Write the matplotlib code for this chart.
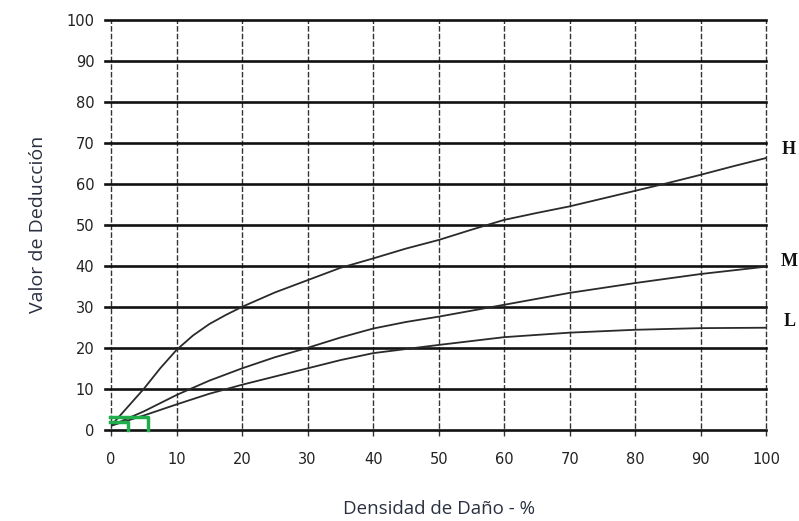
import matplotlib.pyplot as plt

# Curve data
x_h = [0, 2.5, 5, 7.5, 10, 12.5, 15, 17.5, 20, 25, 30, 35, 40, 45, 50, 55, 60, 65, 70, 75, 80, 85, 90, 95, 100]
y_h = [1, 5.5, 10, 15, 19.5, 23, 25.8, 28, 30, 33.5, 36.5, 39.5, 41.8, 44.2, 46.3, 48.8, 51.2, 52.9, 54.5, 56.4, 58.3, 60.2, 62.2, 64.3, 66.3]

x_m = [0, 5, 10, 15, 20, 25, 30, 35, 40, 45, 50, 60, 70, 80, 90, 100]
y_m = [1, 4.5, 8.5, 12, 15, 17.7, 20, 22.5, 24.7, 26.3, 27.6, 30.5, 33.4, 35.8, 38, 39.8]

x_l = [0, 5, 10, 15, 20, 25, 30, 35, 40, 50, 60, 70, 80, 90, 100]
y_l = [1, 3.5, 6.2, 8.8, 11, 13, 15, 17, 18.7, 20.7, 22.6, 23.7, 24.4, 24.8, 24.9]

curve_names = ["H", "M", "L"]
label_y = [68.3, 41, 26.3]

xticks = list(range(0, 101, 10))
yticks = list(range(0, 101, 10))

fig = plt.figure(figsize=(7.99, 5.21), dpi=100)
ax = fig.add_axes([0.139, 0.175, 0.82, 0.787])
ax.set_xlim(0, 100)
ax.set_ylim(0, 100)
for s in ax.spines.values():
    s.set_visible(False)

# grid: solid horizontals, dashed verticals
for yv in yticks:
    ax.plot([-1, 100], [yv, yv], color="#111111", lw=1.9, clip_on=False, zorder=2)
for xv in xticks:
    ax.plot([xv, xv], [-1.5, 100], color="#333333", lw=1.0,
            linestyle=(0, (4, 1.5)), clip_on=False, zorder=1)

for xs, ys in [(x_h, y_h), (x_m, y_m), (x_l, y_l)]:
    ax.plot(xs, ys, color="#2a2a2a", lw=1.3, zorder=3)

for name, ly in zip(curve_names, label_y):
    ax.text(103.5, ly, name, fontsize=13, color="#111111", ha="center", va="center",
            family="Liberation Serif", fontweight="bold")

# green marker drawn on the scan
ax.plot([-0.2, 5.6, 5.6], [3.2, 3.2, 0], color="#1fae4b", lw=2.5, clip_on=False, zorder=4)
ax.plot([-0.2, 2.6, 2.6], [2.0, 2.0, 0], color="#1fae4b", lw=2.5, clip_on=False, zorder=4)

ax.set_xticks(xticks)
ax.set_yticks(yticks)
ax.tick_params(length=0, labelsize=10.5, labelcolor="#222222")
ax.tick_params(axis="x", pad=16)
ax.tick_params(axis="y", pad=12)

ax.set_xlabel("Densidad de Daño - %", fontsize=13.5, color="#2b3040",
              family="Open Sans", labelpad=24)
ax.set_ylabel("Valor de Deducción", fontsize=14, color="#2b3040",
              family="Open Sans", labelpad=14)

fig.savefig("out.png", dpi=100)
